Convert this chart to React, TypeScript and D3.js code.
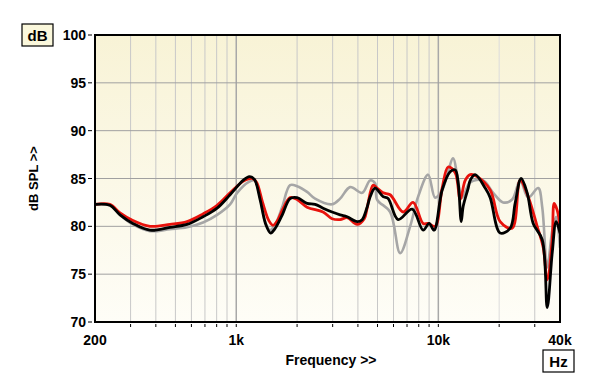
import React from 'react';
import * as d3 from 'd3';

// frequency (Hz), level (dB)
const graySeries: [number, number][] = [
  [200, 82.3], [237, 82.2], [266, 81.2], [308, 80.2], [374, 79.5], [470, 79.7],
  [571, 79.9], [685, 80.4], [804, 81.2], [932, 82.3], [1010, 83.5], [1144, 84.6],
  [1230, 84.8], [1312, 83.0], [1389, 80.5], [1470, 79.6], [1560, 80.2], [1686, 82.0],
  [1847, 84.3], [2000, 84.2], [2241, 83.6], [2455, 82.9], [2980, 82.3], [3266, 82.9],
  [3660, 84.1], [4197, 83.5], [4596, 84.8], [4863, 84.5], [4977, 82.8], [5774, 81.5],
  [6472, 77.2], [7254, 80.0], [7943, 83.1], [8903, 85.4], [9640, 83.0], [10445, 83.8],
  [11840, 87.1], [12400, 85.3], [13120, 83.0], [14381, 84.6], [16673, 84.8], [18683, 83.5],
  [20920, 82.5], [23190, 82.8], [25400, 84.8], [27840, 83.0], [31200, 84.0], [32670, 82.0],
  [34580, 75.7], [36600, 79.5], [38300, 81.0], [40000, 77.8],
];

const redSeries: [number, number][] = [
  [200, 82.3], [237, 82.3], [266, 81.4], [308, 80.6], [374, 80.0], [470, 80.2],
  [571, 80.5], [685, 81.3], [804, 82.2], [932, 83.5], [1081, 84.7], [1197, 85.0],
  [1260, 84.6], [1350, 82.5], [1450, 80.6], [1521, 80.1], [1600, 80.6], [1700, 81.8],
  [1847, 83.0], [2000, 82.8], [2241, 82.0], [2689, 81.5], [2980, 80.8], [3266, 80.7],
  [3537, 80.9], [3963, 80.2], [4300, 80.8], [4442, 81.9], [4750, 84.3], [4977, 84.0],
  [5331, 83.5], [5774, 83.3], [6697, 81.5], [7500, 82.5], [8410, 80.3], [8903, 80.3],
  [9640, 80.0], [10445, 84.0], [11185, 86.2], [12119, 85.6], [12834, 82.8], [13584, 84.8],
  [14381, 85.4], [15567, 85.2], [18054, 83.8], [20230, 80.5], [23190, 79.8], [25400, 84.8],
  [27840, 83.1], [30840, 80.0], [33040, 77.8], [34580, 74.4], [36600, 78.6], [37440, 82.4],
  [38740, 81.7], [40000, 80.0],
];

const blackSeries: [number, number][] = [
  [200, 82.3], [237, 82.2], [266, 81.2], [308, 80.3], [374, 79.6], [470, 79.9],
  [571, 80.2], [685, 81.0], [804, 81.9], [932, 83.3], [1081, 84.8], [1160, 85.2],
  [1230, 84.9], [1312, 82.8], [1400, 80.2], [1480, 79.3], [1560, 79.8], [1690, 81.2],
  [1847, 82.9], [2000, 83.0], [2241, 82.4], [2455, 82.3], [2689, 81.9], [2980, 81.5],
  [3266, 81.2], [3537, 81.0], [3963, 80.5], [4197, 80.7], [4442, 82.0], [4600, 83.1],
  [4863, 84.0], [5331, 83.1], [5642, 82.9], [6324, 80.7], [7421, 81.8], [8410, 79.6],
  [9006, 80.3], [9530, 79.6], [10445, 83.8], [11443, 85.7], [12119, 85.9], [12543, 84.5],
  [12980, 80.5], [13277, 82.1], [14056, 84.0], [14381, 84.8], [15213, 85.4], [17058, 84.0],
  [18054, 83.0], [20230, 79.3], [22670, 79.8], [23990, 82.4], [25690, 85.0], [27520, 83.5],
  [29470, 80.3], [32670, 78.6], [34580, 71.5], [36600, 77.2], [38300, 80.5], [40000, 79.3],
];

const yTicks = [70, 75, 80, 85, 90, 95, 100];
const xLabels: [number, string][] = [[200, '200'], [1000, '1k'], [10000, '10k'], [40000, '40k']];
const xGrid = [300, 400, 500, 600, 700, 800, 900, 1000, 2000, 3000, 4000, 5000, 6000, 7000, 8000, 9000, 10000, 20000, 30000];

export default function App() {
  const W = 600;
  const H = 389;
  const margin = { top: 35, right: 40, bottom: 67, left: 95 };
  const x = d3.scaleLog().domain([200, 40000]).range([margin.left, W - margin.right]);
  const y = d3.scaleLinear().domain([70, 100]).range([H - margin.bottom, margin.top]);

  const line = d3
    .line<[number, number]>()
    .x((d) => x(d[0]))
    .y((d) => y(d[1]))
    .curve(d3.curveCatmullRom.alpha(0.5));

  const x0 = x(200);
  const x1 = x(40000);
  const y0 = y(70);
  const y1 = y(100);
  const font = 'Arial, "Liberation Sans", Helvetica, sans-serif';

  return (
    <svg width={W} height={H} style={{ position: 'absolute', left: 0, top: 0, background: '#fff' }} fontFamily={font}>
      <defs>
        <linearGradient id="bg" x1="0" y1="0" x2="0" y2="1">
          <stop offset="0%" stopColor="#f8f3d6" />
          <stop offset="100%" stopColor="#fefdf7" />
        </linearGradient>
        <clipPath id="plot">
          <rect x={x0} y={y1} width={x1 - x0} height={y0 - y1} />
        </clipPath>
      </defs>
      <rect x={x0} y={y1} width={x1 - x0} height={y0 - y1} fill="url(#bg)" />

      {/* grid */}
      {xGrid.map((f) => (
        <line
          key={'xg' + f}
          x1={x(f)}
          x2={x(f)}
          y1={y1}
          y2={y0}
          stroke={f === 1000 || f === 10000 ? '#a8a8a8' : f === 20000 ? '#dcdcdc' : '#c8c8c8'}
          strokeWidth={f === 1000 || f === 10000 ? 1.5 : 1}
        />
      ))}
      {yTicks.slice(1, -1).map((t) => (
        <line key={'yg' + t} x1={x0} x2={x1} y1={y(t)} y2={y(t)} stroke="#a0a0a0" strokeWidth={1} />
      ))}

      {/* curves */}
      <g clipPath="url(#plot)" fill="none" strokeLinejoin="round" strokeLinecap="round">
        <path d={line(graySeries) || ''} stroke="#a6a6a6" strokeWidth={2.6} />
        <path d={line(redSeries) || ''} stroke="#e8120c" strokeWidth={2.8} />
        <path d={line(blackSeries) || ''} stroke="#000" strokeWidth={2.8} />
      </g>

      {/* frame */}
      <rect x={x0} y={y1} width={x1 - x0} height={y0 - y1} fill="none" stroke="#000" strokeWidth={2} />

      {/* y axis */}
      {yTicks.map((t) => (
        <g key={'yt' + t}>
          <line x1={x0 - 7} x2={x0 - 3} y1={y(t)} y2={y(t)} stroke="#000" strokeWidth={1} />
          <text x={x0 - 9} y={y(t)} dy="0.36em" textAnchor="end" fontSize={14} fontWeight="bold">
            {t}
          </text>
        </g>
      ))}
      <text
        transform={`translate(38,${(y0 + y1) / 2}) rotate(-90)`}
        textAnchor="middle"
        fontSize={13}
        fontWeight="bold"
      >
        dB SPL &gt;&gt;
      </text>
      <rect x={22} y={24} width={31} height={22} fill="#fbf8dc" stroke="#000" strokeWidth={1.2} />
      <text x={37.5} y={40.5} textAnchor="middle" fontSize={15} fontWeight="bold">
        dB
      </text>

      {/* x axis */}
      {xGrid.map((f) => (
        <line key={'xt' + f} x1={x(f)} x2={x(f)} y1={y0 + 2} y2={y0 + 5} stroke="#000" strokeWidth={1} />
      ))}
      {xLabels.map(([f, s]) => (
        <text key={'xl' + f} x={x(f)} y={y0 + 23} textAnchor="middle" fontSize={14} fontWeight="bold">
          {s}
        </text>
      ))}
      <text x={331} y={365} textAnchor="middle" fontSize={14} fontWeight="bold">
        Frequency &gt;&gt;
      </text>
      <rect x={543} y={350} width={31} height={22} fill="#ffffff" stroke="#000" strokeWidth={1.2} />
      <text x={558.5} y={366.5} textAnchor="middle" fontSize={15} fontWeight="bold">
        Hz
      </text>
    </svg>
  );
}
